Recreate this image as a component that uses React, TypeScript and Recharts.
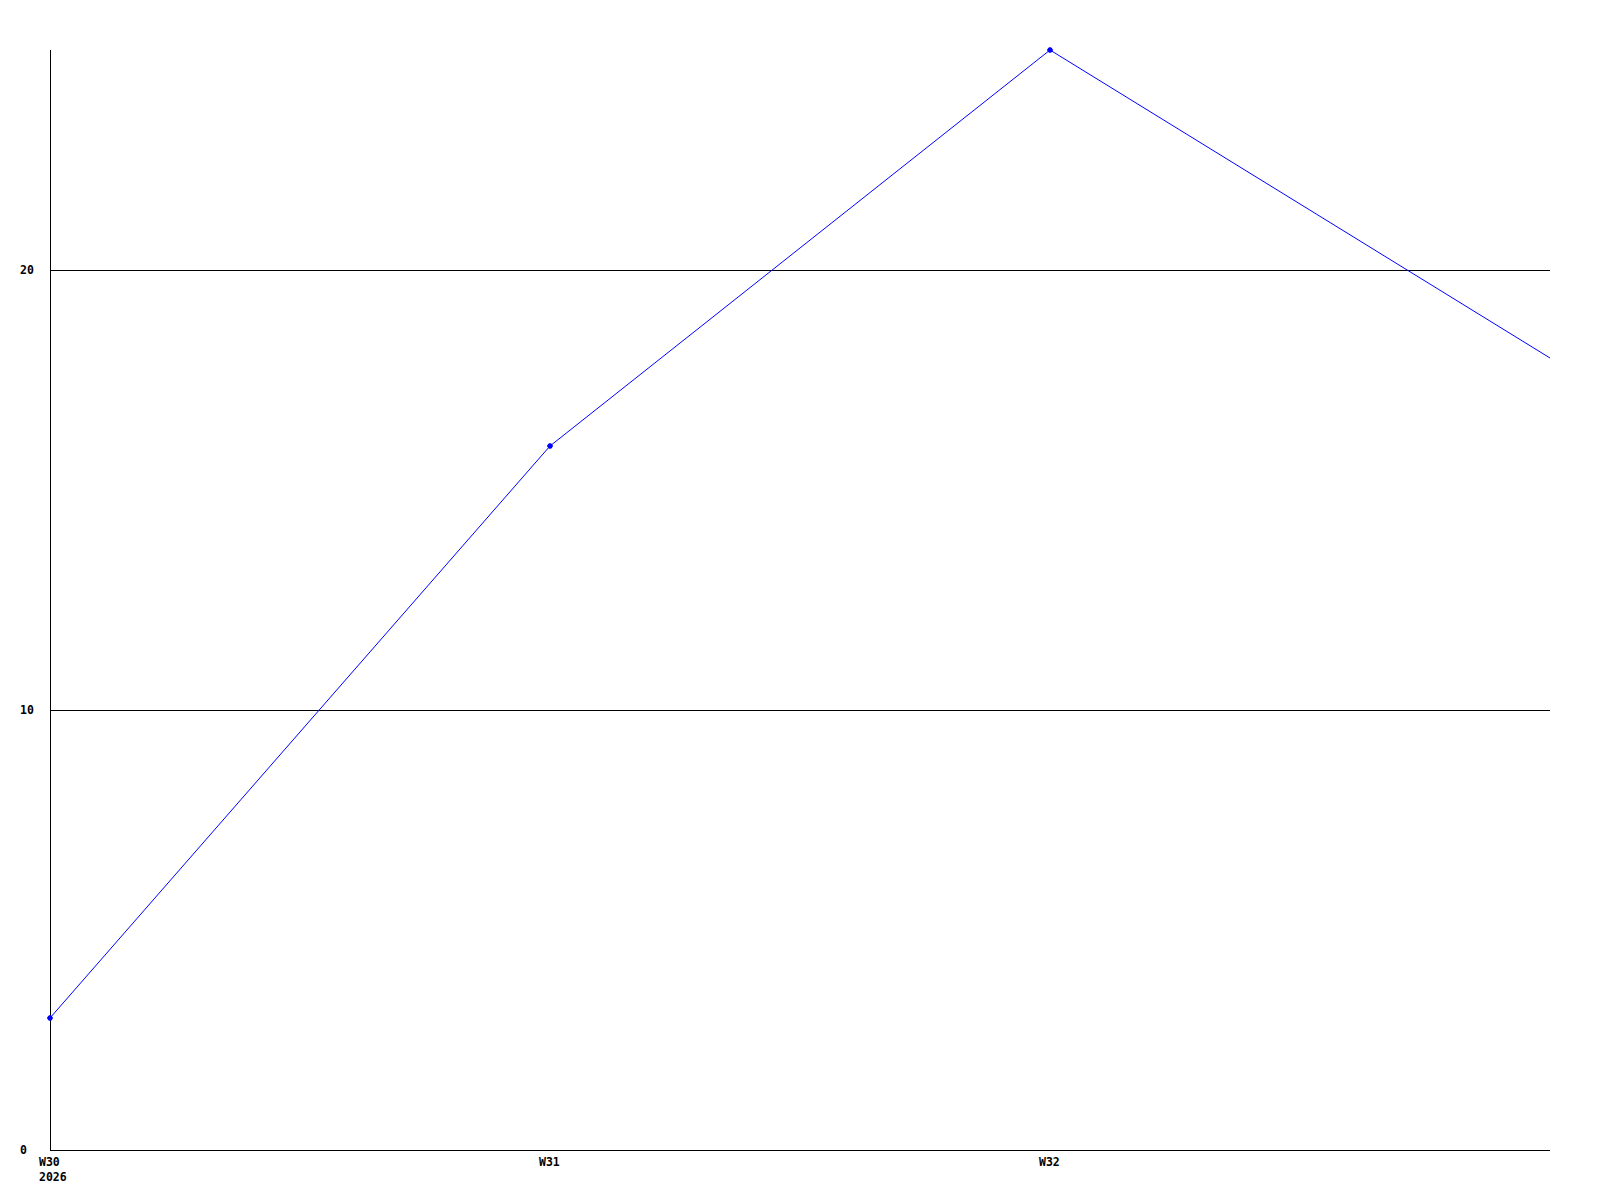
import React from "react";
import { LineChart, Line, XAxis, YAxis, ReferenceLine } from "recharts";

const weeks = [30, 31, 32, 33];
const weekLabels = ["W30", "W31", "W32", ""];
const yearLabels = ["2026", "", "", ""];
const values = [3, 16, 25, 18];
const yTicks = [0, 10, 20];
const xTicks = [30, 31, 32];

const data = weeks.map((w, i) => ({ week: w, value: values[i] }));

const font = {
  fontFamily: "'DejaVu Sans Mono', 'Liberation Mono', monospace",
  fontWeight: 700,
  fontSize: 11.5,
  fill: "#000",
};

function YTick(props: any) {
  const { x, y, payload } = props;
  return (
    <text x={x - 30} y={y} dy={4} textAnchor="start" {...font}>
      {payload.value}
    </text>
  );
}

function XTick(props: any) {
  const { x, y, payload } = props;
  const i = weeks.indexOf(payload.value);
  return (
    <g>
      <text x={x - 11} y={y + 16} textAnchor="start" {...font}>
        {weekLabels[i]}
      </text>
      {yearLabels[i] && (
        <text x={x - 11} y={y + 31} textAnchor="start" {...font}>
          {yearLabels[i]}
        </text>
      )}
    </g>
  );
}

function Mark(props: any) {
  const { cx, cy, index } = props;
  if (index === weeks.length - 1 || cx == null) return <g key={index} />;
  return (
    <path
      key={index}
      d={`M${cx - 3},${cy}L${cx + 3},${cy}M${cx},${cy - 3}L${cx},${cy + 3}M${cx - 1.5},${cy - 1.5}h3v3h-3z`}
      stroke="#0000ff"
      strokeWidth={1.3}
      fill="#0000ff"
    />
  );
}

export default function App() {
  return (
    <div style={{ width: 1600, height: 1200, background: "#fff" }}>
      <style>{"body{margin:0}"}</style>
      <LineChart
        width={1600}
        height={1200}
        data={data}
        margin={{ top: 50, right: 50, bottom: 0, left: 20 }}
      >
        <XAxis
          dataKey="week"
          type="number"
          domain={[30, 33]}
          ticks={xTicks}
          height={50}
          tickLine={false}
          tickSize={0}
          tickMargin={0}
          axisLine={{ stroke: "#000", shapeRendering: "crispEdges" }}
          tick={<XTick />}
          interval={0}
        />
        <YAxis
          type="number"
          domain={[0, 25]}
          ticks={yTicks}
          width={30}
          tickLine={false}
          tickSize={0}
          tickMargin={0}
          axisLine={{ stroke: "#000", shapeRendering: "crispEdges" }}
          tick={<YTick />}
          interval={0}
        />
        {yTicks
          .filter((t) => t > 0)
          .map((t) => (
            <ReferenceLine key={t} y={t} stroke="#000" strokeWidth={1} shapeRendering="crispEdges" />
          ))}
        <Line
          dataKey="value"
          type="linear"
          stroke="#0000ff"
          strokeWidth={1}
          dot={<Mark />}
          activeDot={false}
          isAnimationActive={false}
        />
      </LineChart>
    </div>
  );
}
